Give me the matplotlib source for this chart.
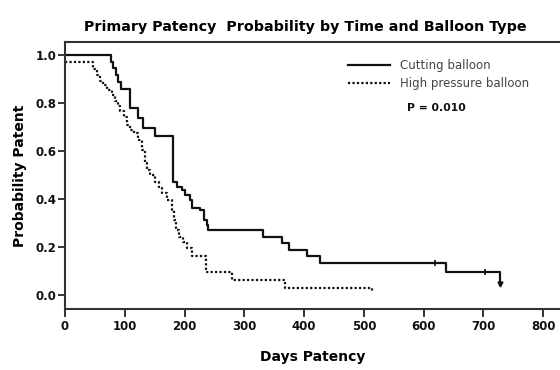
#!/usr/bin/env python3

import numpy as np
import matplotlib
matplotlib.use('Agg')
import matplotlib.pyplot as plt

# Kaplan-Meier step data (days, survival after the drop)
cut_t = [0, 77, 81, 85, 89, 93, 109, 123, 130, 151, 181, 187, 195, 201, 209,
         212, 226, 232, 237, 240, 331, 363, 375, 404, 427, 638, 728]
cut_s = [1.0, 0.972, 0.944, 0.916, 0.888, 0.857, 0.778, 0.736, 0.694, 0.662,
         0.472, 0.451, 0.438, 0.417, 0.396, 0.361, 0.354, 0.313, 0.292, 0.271,
         0.243, 0.215, 0.188, 0.163, 0.135, 0.097, 0.045]
cut_censored = [619, 703]

hp_t = [0, 47, 53, 59, 64, 70, 78, 84, 89, 92, 98, 103, 109, 115, 123, 129,
        134, 137, 143, 151, 157, 162, 171, 179, 182, 185, 190, 197, 204, 212,
        236, 279, 368, 513]
hp_s = [0.968, 0.94, 0.917, 0.889, 0.875, 0.854, 0.833, 0.806, 0.785, 0.764,
        0.743, 0.708, 0.688, 0.674, 0.646, 0.604, 0.549, 0.521, 0.5, 0.472,
        0.444, 0.424, 0.396, 0.354, 0.313, 0.271, 0.243, 0.222, 0.194, 0.163,
        0.095, 0.063, 0.028, 0.012]

x_ticks = [0, 100, 200, 300, 400, 500, 600, 700, 800]
y_ticks = [0.0, 0.2, 0.4, 0.6, 0.8, 1.0]
labels = ['Cutting balloon', 'High pressure balloon']


def surv_at(t, s, when):
    idx = np.searchsorted(t, when, side='right') - 1
    return np.asarray(s)[idx]


def main():
    plt.rcParams['font.family'] = ['DejaVu Sans']
    fig = plt.figure(figsize=(5.6, 3.7), dpi=100)
    ax = fig.add_axes([0.116, 0.165, 0.884, 0.722])

    ink = '#111111'
    ax.step(cut_t, cut_s, where='post', color=ink, lw=1.6,
            label=labels[0])
    ax.step(hp_t, hp_s, where='post', color=ink, lw=1.6,
            linestyle=(0, (1, 1)), label=labels[1])

    cs = surv_at(cut_t, cut_s, cut_censored)
    ax.plot(cut_censored, cs, '|', color=ink, ms=5, mew=1.2)
    ax.plot(cut_t[-1:], cut_s[-1:], 'v', color=ink, ms=3.5)

    ax.set_xlim(0, 828)
    ax.set_ylim(-0.058, 1.054)
    ax.set_xticks(x_ticks)
    ax.set_yticks(y_ticks)
    ax.set_xticklabels([str(v) for v in x_ticks], fontsize=8.5,
                       fontweight='bold')
    ax.set_yticklabels([f'{v:.1f}' for v in y_ticks], fontsize=8.5,
                       fontweight='bold')
    ax.tick_params(axis='x', length=6, width=1.2, pad=2, colors=ink)
    ax.tick_params(axis='y', length=5, width=1.2, pad=1, colors=ink)
    for side in ['left', 'bottom', 'top']:
        ax.spines[side].set_linewidth(1.5)
        ax.spines[side].set_color('#333333')
    ax.spines['right'].set_visible(False)

    ax.set_xlabel('Days Patency', fontsize=10, fontweight='bold',
                  labelpad=12)
    ax.set_ylabel('Probability Patent', fontsize=10, fontweight='bold',
                  labelpad=6)
    fig.suptitle('Primary Patency  Probability by Time and Balloon Type',
                 x=0.545, y=0.945, fontsize=10.3, fontweight='bold')

    leg = ax.legend(loc='upper left', bbox_to_anchor=(0.55, 0.975),
                    frameon=False, fontsize=8.5, handlelength=3.6,
                    handletextpad=0.8, labelspacing=0.45)
    for txt in leg.get_texts():
        txt.set_color('#444444')
    ax.text(0.69, 0.753, 'P = 0.010', transform=ax.transAxes,
            fontsize=7.8, fontweight='bold', color=ink, va='center')

    fig.savefig('out.png', dpi=100)


if __name__ == '__main__':
    main()
